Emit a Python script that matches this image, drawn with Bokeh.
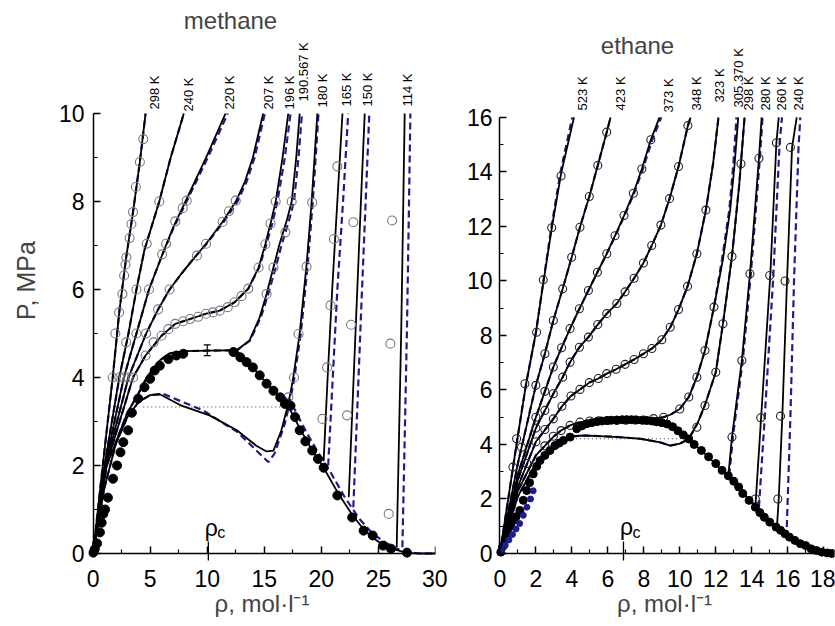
import math
from bokeh.plotting import figure
from bokeh.models import (Range1d, SingleIntervalTicker, FixedTicker, Label, Whisker,
                          ColumnDataSource, TeeHead, LinearAxis)
from bokeh.layouts import row
from bokeh.embed import file_html
from bokeh.resources import INLINE
from bokeh.core.properties import value

FONT = "Liberation Sans"
BLUE = "#1d1d8f"
GREY = "#7a7a7a"

# ===================== METHANE =====================
m_labels = ["298 K", "240 K", "220 K", "207 K", "196 K", "190.567 K",
            "180 K", "165 K", "150 K", "114 K"]
m_rho_c = 10.1

m298_rho = [0, 0.85, 1.72, 2.3, 2.9, 3.5, 4.1, 4.6]
m298_p = [0, 2.0, 4.0, 5.5, 6.73, 7.76, 8.9, 10.0]
m240_rho = [0, 1.0, 2.3, 3.1, 3.8, 4.5, 5.8, 6.8, 7.95]
m240_p = [0, 2.0, 4.0, 5.0, 6.0, 6.9, 8.0, 9.0, 10.0]
m220_rho = [0, 1.05, 2.7, 3.8, 4.9, 6.0, 7.0, 8.0, 9.9, 11.6]
m220_p = [0, 2.0, 4.0, 5.0, 6.0, 6.75, 7.4, 7.95, 9.0, 10.0]
m220b_rho = [0, 1.05, 2.7, 3.8, 4.9, 6.0, 7.05, 8.1, 10.05, 11.8]
m207_rho = [0, 1.1, 3.1, 4.65, 5.7, 6.7, 7.8, 8.9, 9.9, 11.35, 12.5, 13.3, 14.0, 14.9]
m207_p = [0, 2.0, 4.0, 5.0, 5.55, 6.0, 6.38, 6.73, 7.04, 7.54, 8.0, 8.45, 9.0, 10.0]
m207b_rho = [0, 1.1, 3.1, 4.65, 5.7, 6.7, 7.8, 8.9, 9.95, 11.45, 12.65, 13.45, 14.15, 15.05]
m196_rho = [0, 1.15, 3.5, 4.6, 6.0, 7.2, 8.5, 9.9, 11.1, 12.4, 13.6, 14.5, 15.1, 15.55, 16.0, 16.6, 17.1]
m196_p = [0, 2.0, 4.0, 4.5, 4.95, 5.22, 5.33, 5.45, 5.52, 5.71, 6.02, 6.5, 7.04, 7.5, 8.0, 9.0, 10.0]
m196b_rho = [0, 1.15, 3.5, 4.6, 6.0, 7.2, 8.5, 9.9, 11.1, 12.4, 13.6, 14.55, 15.2, 15.7, 16.15, 16.8, 17.3]
m190_rho = [0, 1.2, 3.0, 3.8, 4.7, 5.85, 6.7, 8.0, 10.0, 12.6, 13.7, 14.6, 15.2, 15.8, 16.3, 17.0, 17.4, 17.8, 18.1]
m190_p = [0, 2.0, 3.2, 3.55, 4.0, 4.39, 4.55, 4.6, 4.61, 4.62, 4.84, 5.37, 5.9, 6.5, 7.0, 7.6, 8.0, 9.0, 10.0]
m190b_rho = [0, 1.2, 3.0, 3.8, 4.7, 5.85, 6.7, 8.0, 10.0, 12.6, 13.75, 14.7, 15.35, 16.0, 16.5, 17.2, 17.6, 18.0, 18.3]
m180_rho = [0, 1.0, 2.0, 3.0, 4.0, 5.0, 5.85, 7.75, 10.2, 12.6, 14.3, 15.2, 15.8, 16.5, 17.1, 17.5, 18.1, 18.7, 19.15, 19.65]
m180_p = [0, 1.5, 2.5, 3.1, 3.45, 3.6, 3.62, 3.36, 3.14, 2.8, 2.45, 2.32, 2.34, 2.8, 3.4, 3.93, 5.0, 6.55, 8.0, 10.0]
m180b_rho = [0, 1.0, 2.0, 3.0, 4.0, 5.0, 6.15, 9.65, 12.6, 14.0, 15.35, 15.9, 16.8, 17.2, 17.6, 18.2, 18.8, 19.25, 19.75]
m180b_p = [0, 1.5, 2.5, 3.1, 3.45, 3.6, 3.63, 3.25, 2.77, 2.42, 2.08, 2.27, 2.95, 3.4, 3.93, 5.0, 6.55, 8.0, 10.0]
m165_rho = [20.2, 20.55, 20.95, 21.4, 21.85]
m165_p = [2.1, 4.0, 6.0, 8.0, 10.0]
m165b_rho = [20.6, 21.0, 21.4, 21.9, 22.35]
m165b_p = [2.0, 4.0, 6.0, 8.0, 10.0]
m150_rho = [22.4, 22.75, 23.1, 23.45, 23.8]
m150_p = [1.28, 3.5, 5.7, 7.9, 10.0]
m150b_rho = [22.8, 23.15, 23.5, 23.85, 24.2]
m150b_p = [1.05, 3.3, 5.6, 7.8, 10.0]
m114_rho = [26.6, 26.8, 27.0, 27.15, 27.3]
m114_p = [0.14, 2.6, 5.1, 7.5, 10.0]
m114b_rho = [27.1, 27.3, 27.5, 27.65, 27.8]
m114b_p = [0.14, 2.6, 5.1, 7.5, 10.0]

# liquid branch of the coexistence curve (models)
mcl_rho = [12.6, 13.5, 14.6, 15.8, 16.8, 17.3, 18.1, 19.2, 20.2, 21.4, 22.7, 23.7, 24.5, 25.4, 26.1, 27.0, 28.0, 29.0, 30.0]
mcl_p = [4.6, 4.38, 4.05, 3.7, 3.4, 3.25, 2.85, 2.34, 1.95, 1.4, 0.88, 0.55, 0.36, 0.2, 0.12, 0.05, 0.01, 0.0, 0.0]
mclb_rho = [16.8, 17.6, 18.6, 19.7, 20.8, 22.0, 23.3, 24.5, 25.6, 26.7, 27.6, 28.5, 30.0]
mclb_p = [3.55, 3.3, 2.8, 2.3, 1.85, 1.3, 0.8, 0.45, 0.25, 0.1, 0.03, 0.0, 0.0]
# Maxwell line (180 K)
mmax_rho = [4.4, 17.1]
mmax_p = [3.33, 3.33]
# critical point error bar
m_err_rho = [10.0]
m_err_lo = [4.5]
m_err_hi = [4.74]

# experimental coexistence (filled)
msat_rho = [0.02, 0.15, 0.35, 0.6, 0.75, 0.9, 1.05, 1.3, 1.75, 2.1, 2.4, 2.65, 3.07, 3.4, 3.95, 4.5,
            5.0, 5.4, 5.85, 6.6, 7.3, 7.9,
            12.3, 12.9, 13.45, 14.0, 14.6, 15.2, 15.8, 16.4, 16.8, 17.3, 17.7, 18.1, 18.6, 19.2, 19.7,
            20.2, 21.4, 22.7, 23.7, 24.5, 25.4, 26.1, 27.5]
msat_p = [0.02, 0.1, 0.23, 0.48, 0.7, 0.9, 1.0, 1.27, 1.7, 2.0, 2.3, 2.53, 2.8, 3.2, 3.52, 3.78,
          3.97, 4.16, 4.27, 4.42, 4.5, 4.54,
          4.58, 4.46, 4.35, 4.23, 4.05, 3.86, 3.7, 3.55, 3.4, 3.36, 3.1, 2.8, 2.55, 2.34, 2.15,
          1.95, 1.32, 0.82, 0.52, 0.41, 0.18, 0.11, 0.02]

# experimental isotherms (open)
mo298_rho = [1.72, 1.95, 2.28, 2.57, 2.72, 2.84, 2.92, 3.2, 3.36, 3.5, 3.75, 4.1, 4.4]
mo298_p = [4.0, 5.0, 5.48, 5.9, 6.32, 6.57, 6.73, 7.17, 7.49, 7.76, 8.33, 8.9, 9.42]
mo240_rho = [2.3, 2.9, 3.8, 4.7, 5.8]
mo240_p = [4.0, 4.8, 6.0, 7.04, 8.0]
mo220_rho = [2.7, 3.8, 4.9, 6.05, 6.4, 7.2, 7.85, 8.2]
mo220_p = [4.0, 5.0, 6.0, 6.8, 7.04, 7.55, 7.85, 8.02]
mo207_rho = [3.1, 4.65, 5.7, 6.7, 9.1, 9.9, 11.35, 11.9, 12.5]
mo207_p = [4.0, 5.0, 5.55, 6.0, 6.77, 7.04, 7.54, 7.78, 8.02]
mo196_rho = [3.5, 4.6, 5.3, 6.0, 6.6, 7.2, 7.9, 8.5, 9.2, 9.9, 10.5, 11.1, 11.8, 12.4, 13.0, 13.6, 14.5, 15.1, 15.55, 16.0]
mo196_p = [4.0, 4.5, 4.8, 4.95, 5.1, 5.22, 5.28, 5.33, 5.38, 5.45, 5.48, 5.52, 5.6, 5.71, 5.85, 6.02, 6.5, 7.03, 7.5, 8.0]
mo190_rho = [15.2, 15.8, 16.85, 17.4]
mo190_p = [5.9, 6.5, 7.3, 8.0]
mo180_rho = [17.1, 17.6, 18.0, 18.7, 19.2]
mo180_p = [3.55, 4.0, 4.99, 6.52, 7.98]
mo165_rho = [20.1, 20.5, 20.8, 21.1, 21.4]
mo165_p = [3.06, 4.23, 5.64, 7.15, 8.8]
mo150_rho = [22.25, 22.6, 22.8]
mo150_p = [3.14, 5.2, 7.53]
mo114_rho = [25.9, 26.05, 26.2]
mo114_p = [0.9, 4.77, 7.57]

# ===================== ETHANE =====================
e_labels = ["523 K", "423 K", "373 K", "348 K", "323 K", "305.370 K",
            "298 K", "280 K", "260 K", "240 K"]
e_rho_c = 6.87

e523_rho = [0, 0.97, 1.45, 2.0, 2.43, 2.9, 3.42, 4.12]
e523_p = [0, 4.2, 6.2, 8.1, 10.0, 12.0, 14.0, 16.0]
e523b_rho = [0, 0.97, 1.45, 2.0, 2.42, 2.87, 3.37, 4.02]
e423_rho = [0, 1.0, 2.0, 2.5, 2.97, 3.49, 3.99, 4.45, 4.97, 5.44, 5.94, 6.15]
e423_p = [0, 3.3, 6.17, 7.33, 8.55, 9.71, 10.87, 11.97, 13.1, 14.24, 15.46, 16.0]
e373_rho = [0, 1.0, 2.0, 2.5, 2.97, 3.43, 3.9, 4.42, 4.92, 5.42, 5.94, 6.40, 6.90, 7.42, 7.89, 8.39, 8.87]
e373_p = [0, 2.9, 5.0, 5.95, 6.84, 7.55, 8.25, 8.98, 9.65, 10.32, 11.0, 11.66, 12.40, 13.22, 14.11, 15.18, 16.0]
e373b_rho = [0, 1.0, 2.0, 2.5, 2.97, 3.43, 3.9, 4.42, 4.92, 5.42, 5.94, 6.42, 6.93, 7.46, 7.95, 8.47, 8.97]
e348_rho = [0, 1.0, 2.0, 2.97, 3.49, 3.9, 4.42, 4.92, 5.44, 5.94, 6.5, 6.96, 7.46, 7.98, 8.44, 8.95, 9.43, 9.93, 10.45, 10.6]
e348_p = [0, 2.7, 4.6, 5.86, 6.47, 7.02, 7.57, 7.94, 8.4, 8.8, 9.17, 9.6, 10.1, 10.66, 11.3, 12.05, 13.02, 14.2, 15.7, 16.0]
e323_rho = [0, 1.0, 2.0, 2.97, 3.45, 3.95, 4.45, 4.97, 5.47, 5.94, 6.46, 6.96, 7.46, 7.98, 8.45, 9.0,
            9.47, 9.93, 10.43, 10.95, 11.45, 11.85, 12.15]
e323_p = [0, 2.45, 4.1, 4.94, 5.4, 5.78, 6.02, 6.27, 6.42, 6.6, 6.76, 6.94, 7.12, 7.33, 7.52, 7.84,
          8.3, 8.95, 9.8, 11.0, 12.6, 14.3, 16.0]
e305_rho = [0, 1.0, 2.0, 3.0, 3.4, 3.9, 4.45, 5.0, 6.0, 7.0, 8.0, 8.54, 9.1, 9.5, 10.0, 10.5, 10.95,
            11.4, 11.9, 12.4, 12.8, 13.05, 13.25]
e305_p = [0, 2.3, 3.6, 4.3, 4.51, 4.7, 4.82, 4.86, 4.88, 4.89, 4.9, 4.95, 5.0, 5.1, 5.3, 5.74, 6.47,
          7.45, 9.04, 10.8, 12.6, 14.3, 16.0]
e305b_rho = [0, 1.0, 2.0, 3.0, 3.4, 3.9, 4.45, 5.0, 6.0, 7.0, 8.0, 8.54, 9.1, 9.5, 10.0, 10.5, 10.95,
             11.4, 11.9, 12.35, 12.75, 12.98, 13.15]
e298_rho = [0, 1.0, 2.0, 3.0, 3.5, 4.0, 4.64, 5.5, 6.12, 7.0, 7.8, 8.9, 9.47, 10.0, 10.5, 11.0, 11.4,
            12.0, 12.4, 12.9, 13.3, 13.6]
e298_p = [0, 2.1, 3.3, 3.95, 4.17, 4.3, 4.33, 4.31, 4.29, 4.25, 4.21, 4.08, 3.96, 4.03, 4.2, 4.8, 5.45,
          6.65, 8.43, 10.9, 13.5, 16.0]
e280_rho = [12.7, 12.9, 13.45, 13.9, 14.4, 14.55]
e280_p = [2.86, 4.27, 7.08, 10.26, 14.5, 16.0]
e280b_rho = [12.75, 12.95, 13.5, 13.95, 14.45, 14.6]
e260_rho = [14.2, 14.52, 15.03, 15.37, 15.5]
e260_p = [1.7, 4.98, 10.2, 15.07, 16.0]
e260b_rho = [14.4, 14.72, 15.2, 15.55, 15.68]
e240_rho = [15.4, 15.5, 15.7, 15.96, 16.24, 16.5]
e240_p = [0.97, 2.0, 5.04, 10.0, 14.9, 16.0]
e240b_rho = [15.95, 16.0, 16.15, 16.35, 16.6, 16.7]

ecl_rho = [9.5, 10.0, 10.5, 11.2, 12.35, 13.27, 14.2, 15.35, 16.4, 17.5, 18.2, 18.6]
ecl_p = [4.72, 4.5, 4.2, 3.78, 3.05, 2.44, 1.7, 0.97, 0.48, 0.11, 0.02, 0.0]
emax_rho = [4.0, 10.4]
emax_p = [4.21, 4.21]

esat_rho = [0.05, 0.15, 0.3, 0.45, 0.6, 0.74, 0.9, 1.11, 1.3, 1.49, 1.65, 1.85, 2.05, 2.23, 2.5, 2.78,
            3.06, 3.3, 3.53, 3.9, 4.27, 4.55, 4.83, 5.1, 5.4, 5.67, 5.94, 6.2, 6.5, 6.8, 7.05, 7.3,
            7.6, 7.9, 8.17, 8.45, 8.7, 9.0, 9.3,
            9.6, 9.9, 10.2, 10.5, 10.8, 11.2, 11.6, 12.0, 12.35, 12.7, 13.0, 13.27, 13.5, 13.85,
            14.2, 14.45, 14.7, 15.0, 15.35, 15.6, 15.85, 16.1, 16.4, 16.7, 17.0, 17.3, 17.6, 17.9,
            18.2, 18.45]
esat_p = [0.05, 0.25, 0.5, 0.75, 1.0, 1.21, 1.35, 1.58, 1.95, 2.31, 2.6, 2.92, 3.2, 3.41, 3.6, 3.78,
          3.96, 4.05, 4.15, 4.27, 4.58, 4.68, 4.76, 4.8, 4.84, 4.86, 4.88, 4.89, 4.9, 4.91, 4.91, 4.91,
          4.9, 4.89, 4.88, 4.86, 4.83, 4.8, 4.75,
          4.65, 4.5, 4.35, 4.2, 4.0, 3.78, 3.55, 3.3, 3.05, 2.85, 2.65, 2.44, 2.2, 1.95,
          1.7, 1.5, 1.33, 1.15, 0.97, 0.85, 0.72, 0.6, 0.48, 0.36, 0.29, 0.17, 0.11, 0.05,
          0.02, 0.0]
eblue_rho = [0.1, 0.3, 0.5, 0.7, 0.9, 1.1, 1.3, 1.5, 1.7, 1.85]
eblue_p = [0.1, 0.3, 0.5, 0.7, 0.9, 1.1, 1.4, 1.7, 2.0, 2.3]

eo523_rho = [0.72, 0.93, 1.39, 2.04, 2.41, 2.88, 3.40]
eo523_p = [3.17, 4.21, 6.23, 8.12, 10.04, 11.95, 13.85]
eo423_rho = [1.2, 2.0, 2.5, 2.97, 3.49, 3.99, 4.45, 4.97, 5.44, 5.94]
eo423_p = [3.9, 6.17, 7.33, 8.55, 9.71, 10.87, 11.97, 13.1, 14.24, 15.46]
eo373_rho = [2.0, 2.5, 2.97, 3.43, 3.9, 4.42, 4.92, 5.42, 5.94, 6.40, 6.90, 7.42, 7.89, 8.39]
eo373_p = [5.0, 5.95, 6.84, 7.55, 8.25, 8.98, 9.65, 10.32, 11.0, 11.66, 12.40, 13.22, 14.11, 15.18]
eo348_rho = [2.0, 2.5, 2.97, 3.49, 3.9, 4.42, 4.92, 5.44, 5.94, 6.5, 6.96, 7.46, 7.98, 8.44, 8.95, 9.43, 9.93, 10.45]
eo348_p = [4.6, 5.25, 5.86, 6.47, 7.02, 7.57, 7.94, 8.4, 8.8, 9.17, 9.6, 10.1, 10.66, 11.3, 12.05, 13.02, 14.2, 15.7]
eo323_rho = [1.5, 2.0, 2.5, 2.97, 3.45, 3.95, 4.45, 4.97, 5.47, 5.94, 6.46, 6.96, 7.46, 7.98, 8.45, 9.0,
             9.47, 9.93, 10.43, 10.95, 11.45]
eo323_p = [3.3, 4.1, 4.55, 4.94, 5.4, 5.78, 6.02, 6.27, 6.42, 6.6, 6.76, 6.94, 7.12, 7.33, 7.52, 7.84,
           8.3, 8.95, 9.8, 11.0, 12.6]
eo305_rho = [2.5, 2.97, 3.4, 3.9, 4.45, 5.0, 5.5, 6.0, 6.5, 7.0, 7.5, 8.0, 8.54, 9.1, 10.0, 10.5, 10.95, 11.4, 11.9]
eo305_p = [3.95, 4.3, 4.51, 4.7, 4.82, 4.86, 4.87, 4.88, 4.88, 4.89, 4.9, 4.9, 4.95, 5.0, 5.3, 5.74, 6.47, 7.45, 9.04]
eo298_rho = [10.95, 11.4, 12.0, 12.4, 12.9, 13.4]
eo298_p = [4.63, 5.43, 6.65, 8.43, 10.9, 14.3]
eo280_rho = [12.9, 13.45, 13.9, 14.4]
eo280_p = [4.27, 7.08, 10.26, 14.5]
eo260_rho = [14.2, 14.5, 15.0, 15.37]
eo260_p = [2.0, 4.98, 10.2, 15.07]
eo240_rho = [15.45, 15.6, 15.85, 16.15]
eo240_p = [2.0, 5.04, 10.0, 14.9]

# ---------------- groupings ----------------
m_black = [(m298_rho, m298_p), (m240_rho, m240_p), (m220_rho, m220_p), (m207_rho, m207_p),
           (m196_rho, m196_p), (m190_rho, m190_p), (m180_rho, m180_p), (m165_rho, m165_p),
           (m150_rho, m150_p), (m114_rho, m114_p)]
m_blue = [(m298_rho, m298_p), (m240_rho, m240_p), (m220b_rho, m220_p), (m207b_rho, m207_p),
          (m196b_rho, m196_p), (m190b_rho, m190_p), (m180b_rho, m180b_p), (m165b_rho, m165b_p),
          (m150b_rho, m150b_p), (m114b_rho, m114b_p), (mclb_rho, mclb_p)]
m_open = [(mo298_rho, mo298_p), (mo240_rho, mo240_p), (mo220_rho, mo220_p), (mo207_rho, mo207_p),
          (mo196_rho, mo196_p), (mo190_rho, mo190_p), (mo180_rho, mo180_p), (mo165_rho, mo165_p),
          (mo150_rho, mo150_p), (mo114_rho, mo114_p)]

e_black = [(e523_rho, e523_p), (e423_rho, e423_p), (e373_rho, e373_p), (e348_rho, e348_p),
           (e323_rho, e323_p), (e305_rho, e305_p), (e298_rho, e298_p), (e280_rho, e280_p),
           (e260_rho, e260_p), (e240_rho, e240_p)]
e_blue = [(e523b_rho, e523_p), (e423_rho, e423_p), (e373b_rho, e373_p), (e348_rho, e348_p),
          (e323_rho, e323_p), (e305b_rho, e305_p), (e298_rho, e298_p), (e280b_rho, e280_p),
          (e260b_rho, e260_p), (e240b_rho, e240_p)]
e_open = [(eo523_rho, eo523_p), (eo423_rho, eo423_p), (eo373_rho, eo373_p), (eo348_rho, eo348_p),
          (eo323_rho, eo323_p), (eo305_rho, eo305_p), (eo298_rho, eo298_p), (eo280_rho, eo280_p),
          (eo260_rho, eo260_p), (eo240_rho, eo240_p)]

# label placement (pixels)
m_lab_dx = [9, 5, 4, 5, 1, 4, 5, 4, 3, 3]
m_lab_dy = [-4, -2, -4, -4, -4, -12, -6, -7, -7, -7]
e_lab_dx = [8, 10, 9, 6, 1, 0, 4, 4, 3, 2]
e_lab_dy = [-7, -7, -5, -7, -15, -10, -7, -7, -7, -7]


def tick_positions(step, lo, hi):
    n = int(round((hi - lo) / step))
    return [lo + i * step for i in range(n + 1)]


def make_fig(width, bl, br, xr, yr, xint, yint, xb, yb, ylab_standoff):
    p = figure(width=width, height=626, output_backend="svg", toolbar_location=None,
               x_range=Range1d(*xr), y_range=Range1d(*yr),
               min_border_left=bl, min_border_right=br,
               min_border_top=0, min_border_bottom=66)
    p.outline_line_color = None
    p.grid.visible = False
    p.background_fill_color = "white"
    p.border_fill_color = "white"
    # label-only axes at the frame edges
    for ax, intv, b in ((p.xaxis[0], xint, xb), (p.yaxis[0], yint, yb)):
        ax.ticker = SingleIntervalTicker(interval=intv, num_minor_ticks=2)
        ax.bounds = b
        ax.axis_line_color = None
        ax.major_tick_line_color = None
        ax.minor_tick_line_color = None
        ax.major_tick_in = 0
        ax.major_tick_out = 0
        ax.minor_tick_in = 0
        ax.minor_tick_out = 0
        ax.major_label_text_font = FONT
        ax.major_label_text_font_size = "23px"
        ax.major_label_text_color = "black"
    p.xaxis[0].major_label_standoff = 9
    p.yaxis[0].major_label_standoff = ylab_standoff
    # axis lines + inward ticks fixed at rho = 0 and P = 0 (no labels)
    for loc, intv, b in (("below", xint, xb), ("left", yint, yb)):
        major = tick_positions(intv, b[0], b[1] - (b[1] % intv))
        minor = [t + intv / 2 for t in major if t + intv / 2 <= b[1]]
        for ticks, length, lw, draw_line in ((major, 7, 1.5, True), (minor, 4, 1.2, False)):
            fa = LinearAxis(fixed_location=0,
                            ticker=FixedTicker(ticks=[], minor_ticks=ticks),
                            bounds=b, axis_line_width=1.5,
                            axis_line_color="black" if draw_line else None,
                            major_tick_in=0, major_tick_out=0,
                            minor_tick_in=length, minor_tick_out=0,
                            minor_tick_line_width=lw, minor_tick_line_color="black",
                            major_label_standoff=0)
            p.add_layout(fa, loc)
    return p


def draw_panel(p, black, blue, opens, open_color, open_size, sat_rho, sat_p, sat_size,
               coex_rho, coex_p, maxw_rho, maxw_p, labels, dx, dy, rho_c):
    for r, pr in blue:
        p.line(r, pr, line_color=BLUE, line_width=2.2, line_dash="7 4")
    for r, pr in black:
        p.line(r, pr, line_color="black", line_width=1.8)
    p.line(coex_rho, coex_p, line_color="black", line_width=1.8)
    p.line(maxw_rho, maxw_p, line_color="#333333", line_width=1.2, line_dash="1 3")
    for r, pr in opens:
        p.scatter(r, pr, marker="circle", size=open_size, fill_color=None,
                  line_color=open_color, line_width=1.1)
    p.scatter(sat_rho, sat_p, marker="circle", size=sat_size, fill_color="black",
              line_color="black")
    p.text(x=[r[-1] for r, _ in black], y=[pr[-1] for _, pr in black], text=labels,
           angle=math.pi / 2, text_align="left", text_baseline="middle",
           x_offset=dx, y_offset=dy, text_font=value(FONT), text_font_size="13px",
           text_color="black")
    p.scatter([rho_c], [0], marker="dash", size=24, angle=math.pi / 2,
              line_color="black", line_width=1.3)
    p.text(x=[rho_c], y=[0], text=["ρ"], text_align="center", text_baseline="alphabetic",
           x_offset=3, y_offset=-26, text_font=value(FONT), text_font_size="23px",
           text_color="black")
    p.text(x=[rho_c], y=[0], text=["c"], text_align="left", text_baseline="alphabetic",
           x_offset=9, y_offset=-21, text_font=value(FONT), text_font_size="16px",
           text_color="black")


def style_xlabel(p):
    p.xaxis[0].axis_label = "ρ, mol·l⁻¹"
    p.xaxis[0].axis_label_text_font = FONT
    p.xaxis[0].axis_label_text_font_style = "normal"
    p.xaxis[0].axis_label_text_font_size = "24px"
    p.xaxis[0].axis_label_standoff = 0


# ---------------- methane panel ----------------
p1 = make_fig(447, 88, 12, (-0.4, 30.0), (-0.159, 12.57), 5, 2, (0, 30), (0, 10), 4)
p1.yaxis[0].axis_label = "P, MPa"
p1.yaxis[0].axis_label_text_font = FONT
p1.yaxis[0].axis_label_text_font_style = "normal"
p1.yaxis[0].axis_label_text_font_size = "25px"
p1.yaxis[0].axis_label_standoff = 16
style_xlabel(p1)
draw_panel(p1, m_black, m_blue, m_open, GREY, 9, msat_rho, msat_p, 9,
           mcl_rho, mcl_p, mmax_rho, mmax_p, m_labels, m_lab_dx, m_lab_dy, m_rho_c)
err_src = ColumnDataSource(dict(base=m_err_rho, lower=m_err_lo, upper=m_err_hi))
p1.add_layout(Whisker(source=err_src, base="base", lower="lower", upper="upper",
                      dimension="height", line_color="black", line_width=1.2,
                      upper_head=TeeHead(size=7, line_width=1.2),
                      lower_head=TeeHead(size=7, line_width=1.2)))
p1.add_layout(Label(x=142, y=540, x_units="screen", y_units="screen", text="methane",
                    text_font=FONT, text_font_size="24px", text_align="center",
                    text_baseline="middle"))

# ---------------- ethane panel ----------------
p2 = make_fig(388, 47, 1, (-0.3, 18.6), (-0.257, 20.29), 2, 2, (0, 18.6), (0, 16), 2)
style_xlabel(p2)
draw_panel(p2, e_black, e_blue, e_open, "#222222", 8, esat_rho, esat_p, 8,
           ecl_rho, ecl_p, emax_rho, emax_p, e_labels, e_lab_dx, e_lab_dy, e_rho_c)
p2.scatter(eblue_rho, eblue_p, marker="circle", size=6, fill_color=BLUE, line_color=BLUE)
p2.add_layout(Label(x=143, y=515, x_units="screen", y_units="screen", text="ethane",
                    text_font=FONT, text_font_size="24px", text_align="center",
                    text_baseline="middle"))

layout = row(p1, p2)
open("out.html", "w").write(file_html(layout, INLINE))
